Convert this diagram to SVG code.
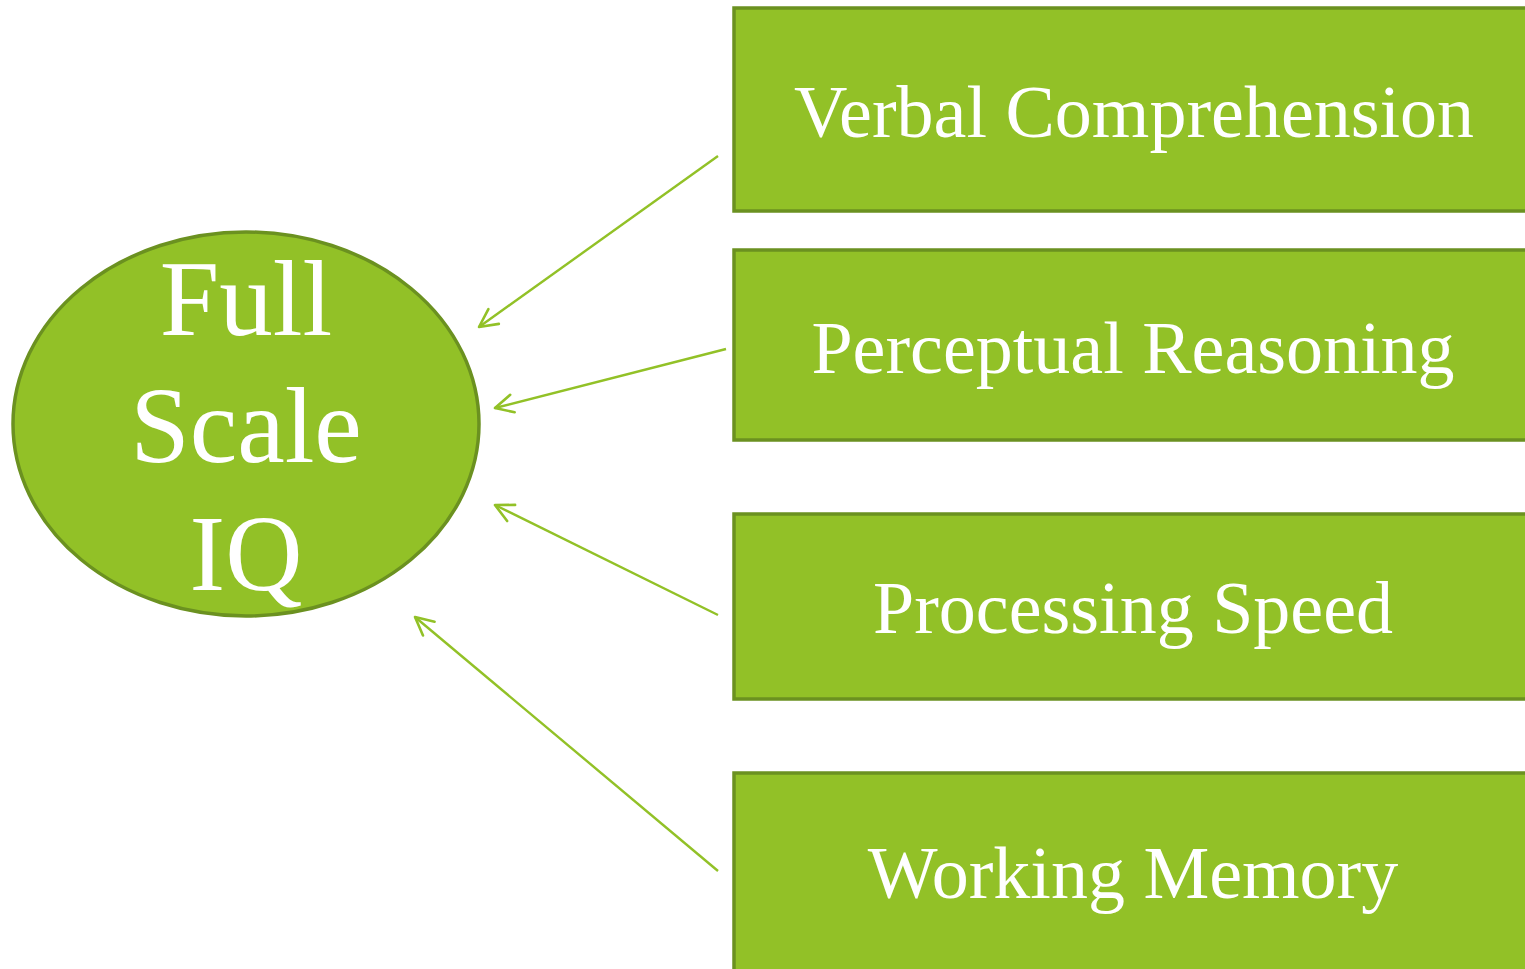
<svg xmlns="http://www.w3.org/2000/svg" width="1525" height="969" viewBox="0 0 1525 969">
<style>
.box{fill:#92C127;stroke:#6B9120;stroke-width:3.5}
.lbl{font-family:"Liberation Serif","Times New Roman",serif;fill:#FFFFFF;text-anchor:middle}
.bl{font-size:74px}
.el{font-size:107px}
.conn{stroke:#92C127;stroke-width:2.4;fill:none;marker-end:url(#ah)}
</style>
<defs>
<marker id="ah" viewBox="0 0 22 22" refX="20" refY="11" markerWidth="22" markerHeight="22" markerUnits="userSpaceOnUse" orient="auto">
<path d="M2,2 L20,11 L2,20" fill="none" stroke="#92C127" stroke-width="2.6" stroke-linecap="round" stroke-linejoin="round"/>
</marker>
</defs>
<g id="connectors">
<line class="conn" x1="718" y1="156" x2="479" y2="327"/>
<line class="conn" x1="726" y1="349" x2="495" y2="408"/>
<line class="conn" x1="718" y1="615" x2="495" y2="505"/>
<line class="conn" x1="718" y1="871" x2="415" y2="617"/>
</g>
<g id="fsiq">
<ellipse class="box" cx="246" cy="424" rx="233" ry="192"/>
<text class="lbl el" x="246" y="335">Full</text>
<text class="lbl el" x="246" y="462">Scale</text>
<text class="lbl el" x="246" y="590">IQ</text>
</g>
<g id="verbal">
<rect class="box" x="734" y="8" width="800" height="203"/>
<text class="lbl bl" x="1134" y="137">Verbal Comprehension</text>
</g>
<g id="perceptual">
<rect class="box" x="734" y="250" width="800" height="190"/>
<text class="lbl bl" x="1133" y="373">Perceptual Reasoning</text>
</g>
<g id="processing">
<rect class="box" x="734" y="514" width="800" height="185"/>
<text class="lbl bl" x="1133" y="633">Processing Speed</text>
</g>
<g id="working">
<rect class="box" x="734" y="773" width="800" height="210"/>
<text class="lbl bl" x="1133" y="898">Working Memory</text>
</g>
</svg>
